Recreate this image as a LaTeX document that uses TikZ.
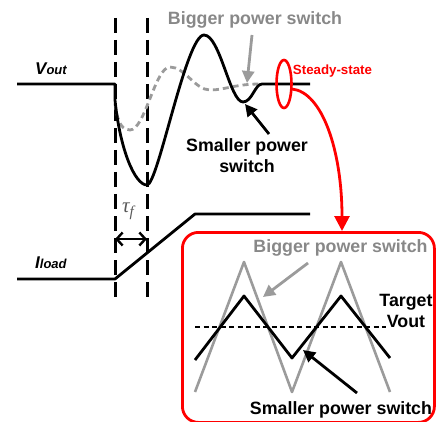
\documentclass[tikz,border=0pt]{standalone}
\usepackage{fontspec}
\setmainfont{Liberation Sans}
\newfontfamily\taufont{Liberation Serif}
\usetikzlibrary{arrows.meta,shapes.geometric}
\definecolor{txtgray}{RGB}{136,136,136}
\definecolor{lngray}{RGB}{155,155,155}
\definecolor{myred}{RGB}{255,0,0}
\tikzset{
  lbl/.style={font=\fontsize{17.8}{21}\selectfont\bfseries, inner sep=0pt, align=center},
  wave/.style={line width=2.8pt, line join=round},
  guide/.style={line width=3pt, dash pattern=on 15pt off 7pt},
  grayarrow/.style={draw=lngray, line width=2.8pt, -{Triangle[length=12pt,width=12pt]}},
  blackarrow/.style={draw=black, line width=2.8pt, -{Triangle[length=12pt,width=12pt]}},
}
\begin{document}
\begin{tikzpicture}[x=1pt,y=-1pt]
\useasboundingbox (0,0) rectangle (436,422);

% dashed guides
\draw[guide] (115,18) -- (115,298);
\draw[guide] (147,18) -- (147,298);

% Vout waveform (bigger switch, dashed gray)
\draw[draw=lngray, line width=2.8pt, dash pattern=on 6pt off 4pt]
  (115,104) .. controls (118,125) and (123,130) .. (130,130)
  .. controls (145,130) and (155,67) .. (170,67)
  .. controls (185,67) and (195,90) .. (210,90)
  .. controls (225,90) and (235,84) .. (260,84);
% Vout waveform (smaller switch, black)
\draw[wave] (17,84) -- (115,84) -- (115,100)
  .. controls (120,150) and (135,185) .. (147,185)
  .. controls (158,185) and (186,35) .. (204,35)
  .. controls (220,35) and (230,102) .. (243,102)
  .. controls (252,102) and (255,84) .. (262,84) -- (310,84);

% Iload waveform
\draw[wave] (17,279) -- (115,279) -- (195,214) -- (310,214);

% labels
\node[inner sep=0pt, anchor=base west, font=\bfseries\itshape] (vout) at (35,75)
  {\fontsize{17}{17}\selectfont V\fontsize{13}{13}\selectfont out};
\node[inner sep=0pt, anchor=base west, font=\bfseries\itshape] (iload) at (35,268)
  {\fontsize{17}{17}\selectfont I\fontsize{13}{13}\selectfont load};
\node[inner sep=0pt, text=black!65, anchor=base west] (tau) at (122,212)
  {\taufont\itshape\fontsize{21}{21}\selectfont τ\raisebox{-4pt}{\fontsize{15}{15}\selectfont f}};

% tau_f double arrow
\coordinate (ta) at (115,239);
\coordinate (tb) at (147,239);
\draw[line width=2.4pt, {Straight Barb[length=6pt,width=13pt]}-{Straight Barb[length=6pt,width=13pt]}] (ta) -- (tb);

% top annotations
\node[lbl, text=txtgray, anchor=base] (bigtop) at (255,25) {Bigger power switch};
\coordinate (bigtopa) at (252,35);
\coordinate (bigtopb) at (247,83);
\draw[grayarrow] (bigtopa) -- (bigtopb);

\node[lbl, anchor=base] (smalltop) at (247,173) {Smaller power\\switch};
\coordinate (smalltopa) at (269,134);
\coordinate (smalltopb) at (245,104);
\draw[blackarrow] (smalltopa) -- (smalltopb);

% steady state
\node[draw=myred, line width=2.6pt, ellipse, minimum width=15pt, minimum height=48pt, inner sep=0pt] (ss) at (284,84) {};
\node[inner sep=0pt, anchor=base, text=myred, font=\fontsize{13.3}{14}\selectfont\bfseries] (sstxt) at (332.5,74.5) {Steady-state};

% zoom box
\node[draw=myred, line width=2.8pt, rounded corners=16pt, minimum width=252pt, minimum height=190pt, inner sep=0pt, anchor=north west] (box) at (181,231) {};
\coordinate (ssout) at (292,89);
\coordinate (boxin) at (342,231);
\draw[draw=myred, line width=2.8pt, -{Triangle[length=15pt,width=15pt]}]
  (ssout) .. controls (322,92) and (342,150) .. (boxin);

% inside box waves
\draw[wave, draw=lngray, line width=2.6pt] (195,392) -- (244,262) -- (292,392) -- (341,262) -- (390,392);
\draw[wave] (195,360) -- (244,296) -- (292,358) -- (341,296) -- (390,358);
\draw[line width=2.2pt, dash pattern=on 5pt off 3.5pt] (195,327) -- (386,327);

\node[lbl, text=txtgray, anchor=base] (bigin) at (340.5,252) {Bigger power switch};
\coordinate (bigina) at (308,263);
\coordinate (biginb) at (263,297);
\draw[grayarrow] (bigina) -- (biginb);

\node[lbl, anchor=base] (target) at (406,327) {Target\\Vout};

\node[lbl, anchor=base] (smallin) at (341,414) {Smaller power switch};
\coordinate (smallina) at (357,393);
\coordinate (smallinb) at (303,350);
\draw[blackarrow] (smallina) -- (smallinb);
\end{tikzpicture}
\end{document}
